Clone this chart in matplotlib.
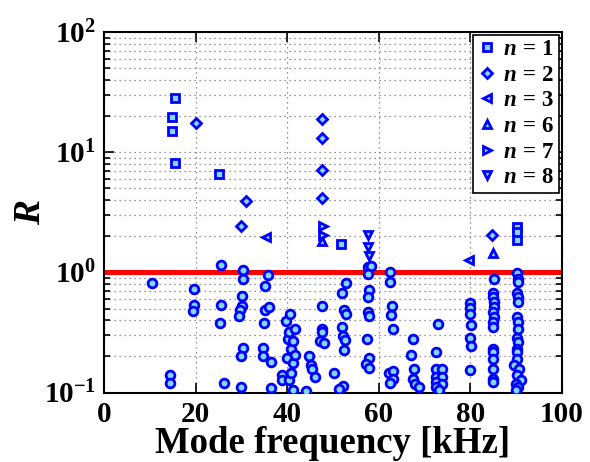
import matplotlib
matplotlib.use('Agg')
import matplotlib.pyplot as plt
import numpy as np

plt.rcParams['font.family'] = ['Liberation Serif', 'DejaVu Serif']
plt.rcParams['font.weight'] = 'bold'
plt.rcParams['axes.labelweight'] = 'bold'
plt.rcParams['mathtext.fontset'] = 'custom'
plt.rcParams['mathtext.rm'] = 'Liberation Serif:bold'
plt.rcParams['mathtext.bf'] = 'Liberation Serif:bold'
plt.rcParams['mathtext.it'] = 'Liberation Serif:bold:italic'

# toroidal mode numbers n = 1, 2, 3, 6, 7, 8 (above threshold)
n1_f = [15.4, 14.9, 14.9, 15.5, 25.0, 51.8, 90.2, 90.2, 90.2]
n1_R = [28.3, 19.5, 15.0, 8.2, 6.6, 1.73, 2.39, 2.17, 1.87]
n2_f = [20.1, 30.9, 29.9, 47.7, 47.5, 47.6, 47.6, 84.8]
n2_R = [17.5, 3.93, 2.43, 18.8, 13.0, 7.08, 4.19, 2.03]
n3_f = [35.4, 79.7]
n3_R = [1.98, 1.26]
n6_f = [47.5, 85.0]
n6_R = [1.81, 1.45]
n7_f = [47.9, 47.9]
n7_R = [2.43, 2.03]
n8_f = [57.6, 57.6, 57.9]
n8_R = [2.03, 1.62, 1.36]

# remaining modes (circles)
oth_f = [10.4, 14.3, 14.3, 19.7, 19.7, 19.5, 25.6, 25.6, 25.3, 26.2,
         30.3, 30.3, 30.2, 30.2, 29.6, 29.4, 30.3, 29.9, 29.9,
         35.9, 35.1, 35.1, 36.1, 35.0, 34.7, 34.7, 36.5, 36.5,
         38.9, 38.9, 39.8, 39.9, 40.1, 40.3, 40.3, 40.5, 40.8, 40.8,
         41.2, 41.2, 41.3, 41.6, 41.8, 44.1, 44.8, 45.2, 45.4, 46.1,
         47.6, 47.7, 47.7, 47.2, 48.0, 50.3,
         52.9, 52.0, 52.5, 52.9, 52.0, 52.1, 52.7, 52.3, 52.1, 51.4,
         57.6, 58.3, 57.6, 57.9, 57.6, 57.6, 57.8, 57.4, 57.9, 57.3, 57.8,
         62.4, 62.4, 62.9, 62.7, 63.0, 62.3, 63.2, 63.2, 62.4,
         67.5, 67.0, 67.7, 67.4, 68.0, 68.8,
         73.0, 72.5, 72.4, 73.7, 72.4, 73.7, 72.4, 73.8, 72.4, 73.2,
         79.9, 79.9, 79.9, 80.1, 79.9, 80.1, 79.9,
         85.2, 85.0, 85.0, 85.2, 85.2, 85.0, 85.2, 85.0, 84.9, 84.9,
         85.0, 85.0, 85.0, 85.0, 85.0,
         90.1, 90.3, 90.3, 90.1, 90.3, 90.3, 90.1, 90.3, 90.3, 90.1,
         90.3, 90.1, 90.1, 90.1, 89.6, 90.5, 90.1, 91.0, 89.9, 90.3, 90.0]
oth_R = [0.815, 0.139, 0.120, 0.72, 0.538, 0.473, 1.15, 0.538, 0.376, 0.119,
         1.05, 0.886, 0.635, 0.521, 0.489, 0.432, 0.236, 0.201, 0.112,
         0.944, 0.764, 0.482, 0.514, 0.378, 0.236, 0.200, 0.181, 0.109,
         0.141, 0.126, 0.393, 0.194, 0.280, 0.318, 0.128, 0.447, 0.231, 0.145,
         0.268, 0.175, 0.104, 0.207, 0.335, 0.102, 0.203, 0.168, 0.158, 0.134,
         0.528, 0.340, 0.318, 0.268, 0.258, 0.145,
         0.815, 0.673, 0.489, 0.453, 0.350, 0.293, 0.275, 0.227, 0.114, 0.107,
         1.107, 1.12, 0.962, 0.708, 0.623, 0.467, 0.430, 0.280, 0.194, 0.173, 0.159,
         1.0, 0.830, 0.521, 0.438, 0.340, 0.145, 0.150, 0.130, 0.120,
         0.280, 0.207, 0.158, 0.130, 0.118, 0.112,
         0.370, 0.217, 0.157, 0.157, 0.134, 0.135, 0.122, 0.118, 0.111, 0.104,
         0.555, 0.508, 0.453, 0.362, 0.286, 0.246, 0.155,
         0.886, 0.673, 0.623, 0.566, 0.514, 0.467, 0.425, 0.385, 0.350, 0.231,
         0.217, 0.191, 0.157, 0.130, 0.122,
         0.986, 0.886, 0.830, 0.673, 0.623, 0.566, 0.425, 0.385, 0.340, 0.286,
         0.263, 0.231, 0.217, 0.191, 0.168, 0.157, 0.139, 0.128, 0.118, 0.111, 0.104]

threshold = 1.0

edge = '#0000ff'
face = '#80d8ff'

fig = plt.figure(figsize=(5.9, 4.62), dpi=100)
ax = fig.add_axes([0.1763, 0.1504, 0.7763, 0.7803])

ax.axhline(threshold, color='#ff0000', lw=3.6, zorder=2)

kw = dict(linestyle='none', mec=edge, mfc=face, mew=2.0, zorder=3)
ax.plot(oth_f, oth_R, 'o', ms=6.3, **kw)
ax.plot(n1_f, n1_R, 's', ms=5.2, label=r'$n\,=\,1$', **kw)
ax.plot(n2_f, n2_R, 'D', ms=5.0, label=r'$n\,=\,2$', **kw)
ax.plot(n3_f, n3_R, '<', ms=6.0, label=r'$n\,=\,3$', **kw)
ax.plot(n6_f, n6_R, '^', ms=6.0, label=r'$n\,=\,6$', **kw)
ax.plot(n7_f, n7_R, '>', ms=6.0, label=r'$n\,=\,7$', **kw)
ax.plot(n8_f, n8_R, 'v', ms=6.0, label=r'$n\,=\,8$', **kw)

ax.set_yscale('log')
ax.set_xlim(0, 100)
ax.set_ylim(0.1, 100)
ax.set_xticks([0, 20, 40, 60, 80, 100])

gkw = dict(linestyle=(0, (1, 3)), color='0.45', lw=0.9)
ax.grid(True, which='major', **gkw)
ax.grid(True, which='minor', axis='y', **gkw)

ax.tick_params(which='both', direction='in', top=True, right=True,
               labelsize=21, width=1.2)
ax.tick_params(which='major', length=7, pad=6)
ax.tick_params(which='minor', length=4)
for s in ax.spines.values():
    s.set_linewidth(1.5)

ax.set_xlabel('Mode frequency [kHz]', fontsize=26.5, labelpad=-1)
ax.set_ylabel('$R$', fontsize=27, labelpad=-3)

leg = ax.legend(loc='upper right', bbox_to_anchor=(0.993, 0.993),
                borderaxespad=0, fontsize=16.5, fancybox=False,
                handlelength=0.8, handletextpad=0.3, labelspacing=0.2,
                borderpad=0.2, framealpha=1)
leg.get_frame().set_edgecolor('black')
leg.get_frame().set_linewidth(1.2)

fig.savefig('out.png', dpi=100)
